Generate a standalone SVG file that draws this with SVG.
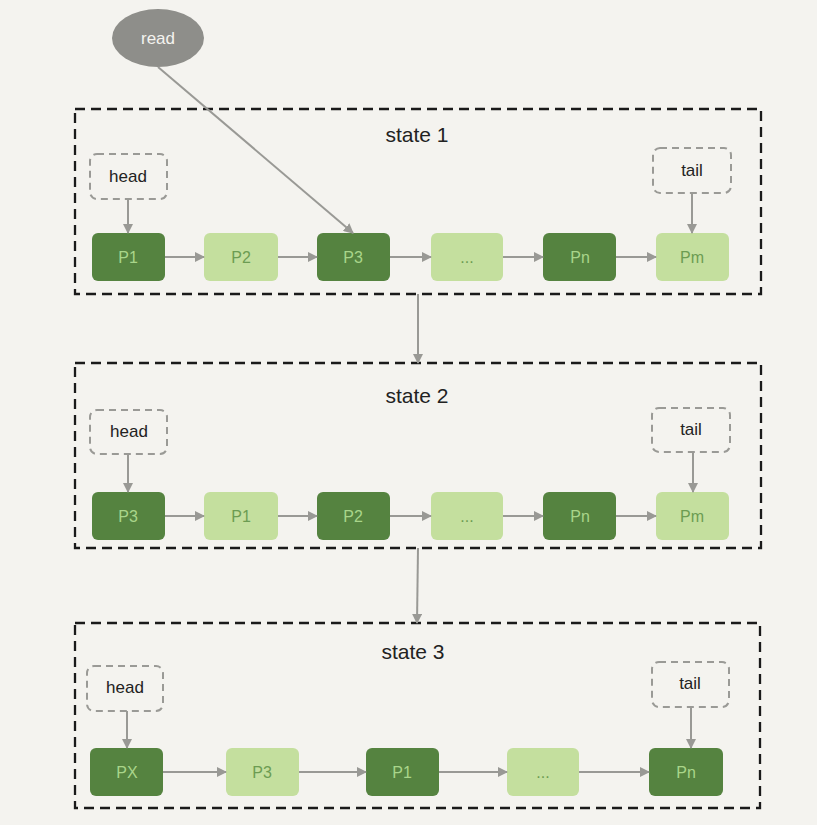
<svg xmlns="http://www.w3.org/2000/svg" width="817" height="825" viewBox="0 0 817 825">
<defs>
<marker id="ah" markerWidth="10" markerHeight="10" refX="9" refY="5" orient="auto" markerUnits="userSpaceOnUse">
<path d="M0,0 L10,5 L0,10 Z" fill="#999995"/>
</marker>
<style>
.state{fill:none;stroke:#1a1a1a;stroke-width:2.3;stroke-dasharray:10,6}
.ptr{fill:#f4f3ef;stroke:#9a9a96;stroke-width:2;stroke-dasharray:7,5}
.dk{fill:#558340}
.lt{fill:#c4df9e}
.dkt{fill:#a9d58a;font-family:"Liberation Sans",sans-serif;font-size:16px;text-anchor:middle}
.ltt{fill:#6c9c52;font-family:"Liberation Sans",sans-serif;font-size:16px;text-anchor:middle}
.lbl{fill:#222;font-family:"Liberation Sans",sans-serif;font-size:17px;text-anchor:middle}
.title{fill:#222;font-family:"Liberation Sans",sans-serif;font-size:21px;text-anchor:middle}
.c{stroke:#999995;stroke-width:2;fill:none;marker-end:url(#ah)}
</style>
</defs>
<rect width="817" height="825" fill="#f4f3ef"/>

<g id="state1">
<rect class="state" x="75" y="109" width="686" height="185"/>
<text class="title" x="417" y="142">state 1</text>
</g>
<g id="state2">
<rect class="state" x="75" y="363" width="686" height="185"/>
<text class="title" x="417" y="403">state 2</text>
</g>
<g id="state3">
<rect class="state" x="75" y="623" width="685" height="185"/>
<text class="title" x="413" y="659">state 3</text>
</g>

<g id="read">
<ellipse cx="158" cy="38" rx="46" ry="29" fill="#8e8e8a"/>
<text x="158" y="44" fill="#f4f3ef" font-family="Liberation Sans, sans-serif" font-size="17" text-anchor="middle">read</text>
</g>

<!-- state 1 -->
<g id="s1-head"><rect class="ptr" x="90" y="154" width="77" height="45" rx="7"/><text class="lbl" x="128" y="182">head</text></g>
<g id="s1-tail"><rect class="ptr" x="653" y="148" width="78" height="45" rx="7"/><text class="lbl" x="692" y="176">tail</text></g>
<g id="s1-p1"><rect class="dk" x="92" y="233" width="73" height="48" rx="6"/><text class="dkt" x="128" y="263">P1</text></g>
<g id="s1-p2"><rect class="lt" x="204" y="233" width="74" height="48" rx="6"/><text class="ltt" x="241" y="263">P2</text></g>
<g id="s1-p3"><rect class="dk" x="317" y="233" width="73" height="48" rx="6"/><text class="dkt" x="353" y="263">P3</text></g>
<g id="s1-dots"><rect class="lt" x="431" y="233" width="72" height="48" rx="6"/><text class="ltt" x="467" y="263">...</text></g>
<g id="s1-pn"><rect class="dk" x="543" y="233" width="73" height="48" rx="6"/><text class="dkt" x="580" y="263">Pn</text></g>
<g id="s1-pm"><rect class="lt" x="656" y="233" width="73" height="48" rx="6"/><text class="ltt" x="692" y="263">Pm</text></g>

<!-- state 2 -->
<g id="s2-head"><rect class="ptr" x="90" y="410" width="77" height="44" rx="7"/><text class="lbl" x="129" y="437">head</text></g>
<g id="s2-tail"><rect class="ptr" x="652" y="408" width="78" height="44" rx="7"/><text class="lbl" x="691" y="435">tail</text></g>
<g id="s2-p3"><rect class="dk" x="92" y="492" width="73" height="48" rx="6"/><text class="dkt" x="128" y="522">P3</text></g>
<g id="s2-p1"><rect class="lt" x="204" y="492" width="74" height="48" rx="6"/><text class="ltt" x="241" y="522">P1</text></g>
<g id="s2-p2"><rect class="dk" x="317" y="492" width="73" height="48" rx="6"/><text class="dkt" x="353" y="522">P2</text></g>
<g id="s2-dots"><rect class="lt" x="431" y="492" width="72" height="48" rx="6"/><text class="ltt" x="467" y="522">...</text></g>
<g id="s2-pn"><rect class="dk" x="543" y="492" width="73" height="48" rx="6"/><text class="dkt" x="580" y="522">Pn</text></g>
<g id="s2-pm"><rect class="lt" x="656" y="492" width="73" height="48" rx="6"/><text class="ltt" x="692" y="522">Pm</text></g>

<!-- state 3 -->
<g id="s3-head"><rect class="ptr" x="87" y="666" width="76" height="45" rx="7"/><text class="lbl" x="125" y="693">head</text></g>
<g id="s3-tail"><rect class="ptr" x="652" y="662" width="77" height="45" rx="7"/><text class="lbl" x="690" y="689">tail</text></g>
<g id="s3-px"><rect class="dk" x="90" y="748" width="73" height="48" rx="6"/><text class="dkt" x="127" y="778">PX</text></g>
<g id="s3-p3"><rect class="lt" x="226" y="748" width="73" height="48" rx="6"/><text class="ltt" x="262" y="778">P3</text></g>
<g id="s3-p1"><rect class="dk" x="366" y="748" width="73" height="48" rx="6"/><text class="dkt" x="402" y="778">P1</text></g>
<g id="s3-dots"><rect class="lt" x="507" y="748" width="72" height="48" rx="6"/><text class="ltt" x="543" y="778">...</text></g>
<g id="s3-pn"><rect class="dk" x="649" y="748" width="74" height="48" rx="6"/><text class="dkt" x="686" y="778">Pn</text></g>

<g id="connectors">
<line class="c" x1="158" y1="67" x2="353" y2="233"/>
<line class="c" x1="128" y1="199" x2="128" y2="233"/>
<line class="c" x1="692" y1="193" x2="692" y2="233"/>
<line class="c" x1="165" y1="257" x2="204" y2="257"/>
<line class="c" x1="278" y1="257" x2="317" y2="257"/>
<line class="c" x1="390" y1="257" x2="431" y2="257"/>
<line class="c" x1="503" y1="257" x2="543" y2="257"/>
<line class="c" x1="616" y1="257" x2="656" y2="257"/>
<line class="c" x1="418" y1="294" x2="418" y2="363"/>

<line class="c" x1="128" y1="454" x2="128" y2="492"/>
<line class="c" x1="693" y1="452" x2="693" y2="492"/>
<line class="c" x1="165" y1="516" x2="204" y2="516"/>
<line class="c" x1="278" y1="516" x2="317" y2="516"/>
<line class="c" x1="390" y1="516" x2="431" y2="516"/>
<line class="c" x1="503" y1="516" x2="543" y2="516"/>
<line class="c" x1="616" y1="516" x2="656" y2="516"/>
<line class="c" x1="418" y1="548" x2="417" y2="623"/>

<line class="c" x1="127" y1="711" x2="127" y2="748"/>
<line class="c" x1="691" y1="707" x2="691" y2="748"/>
<line class="c" x1="163" y1="772" x2="226" y2="772"/>
<line class="c" x1="299" y1="772" x2="366" y2="772"/>
<line class="c" x1="439" y1="772" x2="507" y2="772"/>
<line class="c" x1="579" y1="772" x2="649" y2="772"/>
</g>
</svg>
